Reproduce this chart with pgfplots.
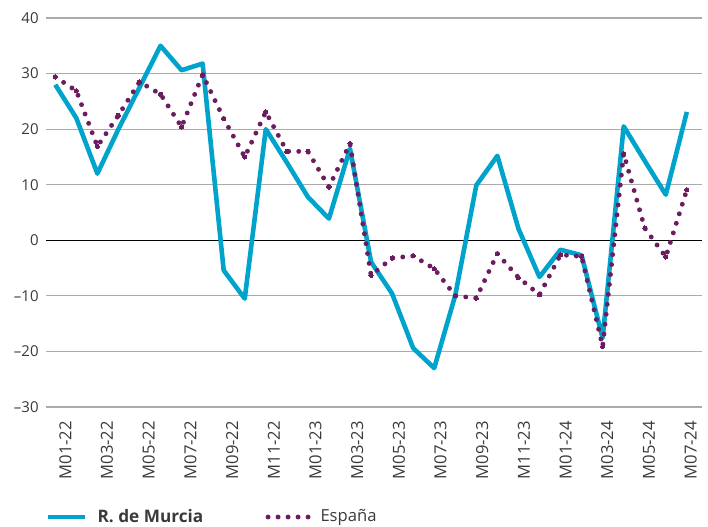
\documentclass[border=0pt]{standalone}
\usepackage{fontspec}
\setmainfont{Open Sans}
\usepackage{pgfplots}
\pgfplotsset{compat=1.18}
\definecolor{murcia}{HTML}{00A3CB}
\definecolor{espana}{HTML}{6C1D5F}
\definecolor{txt}{HTML}{3A3A3A}
\definecolor{gridc}{HTML}{ABABAB}
\pgfplotsset{
  murcialeg/.style={legend image code/.code={\draw[##1] (0pt,0pt) -- (18.8pt,0pt);}},
  espanaleg/.style={legend image code/.code={\draw[##1] (0pt,0pt) -- (20pt,0pt);}},
}
\begin{document}
\begin{tikzpicture}
\begin{axis}[
  scale only axis, width=328pt, height=194.5pt,
  xmin=-0.44, xmax=30.72, ymin=-30, ymax=40,
  axis line style={draw=none},
  major tick length=0pt,
  tick style={draw=none},
  ytick={-30,-20,-10,0,10,20,30,40},
  yticklabels={--30,--20,--10,0,10,20,30,40},
  yticklabel style={font=\fontsize{7.5}{9}\selectfont, text=txt, inner sep=0pt, anchor=east},
  yticklabel shift=3.5pt,
  ymajorgrids, grid style={gridc, line width=0.55pt},
  extra y ticks={0}, extra y tick labels={},
  extra y tick style={grid style={black, line width=0.7pt}},
  xtick={0.48,2.46,4.44,6.42,8.40,10.38,12.36,14.34,16.32,18.30,20.28,22.26,24.24,26.22,28.20,30.18},
  xticklabels={M01-22,M03-22,M05-22,M07-22,M09-22,M11-22,M01-23,M03-23,M05-23,M07-23,M09-23,M11-23,M01-24,M03-24,M05-24,M07-24},
  xticklabel style={rotate=90, anchor=east, inner sep=0pt, font=\fontsize{8.3}{9}\selectfont, text=txt},
  xticklabel shift=6.85pt,
  legend style={at={(axis description cs:-0.0015,-0.2828)}, anchor=west, draw=none, fill=none,
    inner sep=0pt, legend columns=2, font=\fontsize{8.3}{9}\selectfont, text=txt,
    nodes={inner sep=0pt},
    /tikz/every odd column/.append style={column sep=5pt},
    /tikz/every even column/.append style={column sep=28pt}},
]
\addplot[murcia, line width=2.3pt, line join=round, murcialeg]
  table[x=i, y=v] {
i v
0 28.0
1 22.0
2 12.0
3 20.0
4 27.5
5 35.0
6 30.6
7 31.8
8 -5.4
9 -10.5
10 20.0
11 14.0
12 7.8
13 3.9
14 16.5
15 -3.9
16 -9.6
17 -19.4
18 -23.0
19 -9.9
20 9.9
21 15.2
22 2.1
23 -6.6
24 -1.7
25 -2.7
26 -17.6
27 20.5
28 14.3
29 8.2
30 23.1
};
\addlegendentry{\makebox[56pt][l]{\fontsize{8.6}{9}\selectfont\bfseries R. de Murcia}}
\addplot[espana, line width=2.45pt, line cap=round, dash pattern=on 0pt off 5pt,
  mark=*, mark size=1.05pt, mark options={solid, line width=0pt, draw=none, fill=espana}, espanaleg]
  table[x=i, y=v] {
i v
0 29.4
1 26.9
2 16.9
3 22.5
4 28.5
5 26.3
6 20.4
7 29.8
8 21.9
9 15.0
10 23.1
11 16.0
12 16.0
13 9.6
14 17.4
15 -6.3
16 -3.2
17 -2.8
18 -5.1
19 -10.0
20 -10.4
21 -2.4
22 -6.7
23 -9.8
24 -2.6
25 -2.9
26 -19.1
27 15.6
28 2.2
29 -3.0
30 9.1
};
\addlegendentry{España}
\end{axis}
\pgfresetboundingbox
\path[use as bounding box] (-23pt,-59.5pt) rectangle (331pt,203.5pt);
\end{tikzpicture}
\end{document}
